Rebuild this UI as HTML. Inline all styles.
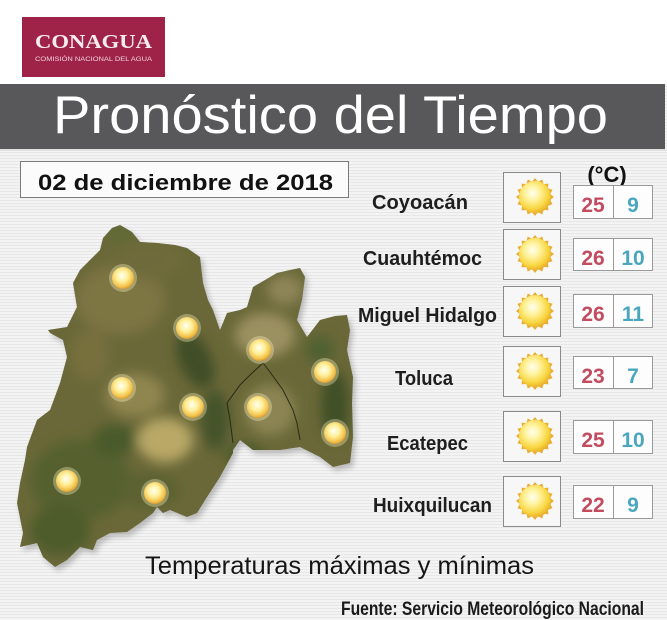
<!DOCTYPE html>
<html><head><meta charset="utf-8"><style>
html,body{margin:0;padding:0;background:#fff;}
svg{display:block;}
</style></head><body>
<svg width="667" height="620" viewBox="0 0 667 620" xmlns="http://www.w3.org/2000/svg">
<defs>
<pattern id="stripes" width="4" height="3" patternUnits="userSpaceOnUse">
<rect width="4" height="3" fill="#f3f3f3"/>
<rect y="2" width="4" height="1" fill="#e7e7e7"/>
</pattern>
<radialGradient id="sunBody" cx="0.42" cy="0.38" r="0.65">
<stop offset="0" stop-color="#fffef0"/>
<stop offset="0.35" stop-color="#fff3a0"/>
<stop offset="0.75" stop-color="#f8d640"/>
<stop offset="1" stop-color="#e9ac28"/>
</radialGradient>
<radialGradient id="dot" cx="0.45" cy="0.4" r="0.6">
<stop offset="0" stop-color="#fffff2"/>
<stop offset="0.45" stop-color="#ffef9a"/>
<stop offset="0.85" stop-color="#f2c048"/>
<stop offset="1" stop-color="#d99a30"/>
</radialGradient>
<g id="sun">
<polygon fill="#e9ae36" points="19,0 15.20,3.02 17.55,7.27 12.89,8.61 13.43,13.43 8.61,12.89 7.27,17.55 3.02,15.20 0,19 -3.02,15.20 -7.27,17.55 -8.61,12.89 -13.43,13.43 -12.89,8.61 -17.55,7.27 -15.20,3.02 -19,0 -15.20,-3.02 -17.55,-7.27 -12.89,-8.61 -13.43,-13.43 -8.61,-12.89 -7.27,-17.55 -3.02,-15.20 0,-19 3.02,-15.20 7.27,-17.55 8.61,-12.89 13.43,-13.43 12.89,-8.61 17.55,-7.27 15.20,-3.02"/>
<circle r="16" fill="url(#sunBody)"/>
</g>
<g id="mdot">
<circle r="14" fill="#fff6c0" opacity="0.35"/>
<circle r="11" fill="url(#dot)"/>
</g>
<clipPath id="mapclip">
<polygon id="mapshape" points="103,238 112,228 120,225 132,232 140,242 157,243 175,245 187,248 200,257 203,283 208,300 213,310 220,330 227,313 240,310 247,307 253,287 265,280 277,273 290,270 300,268 305,277 302,300 297,320 307,337 320,320 335,316 347,315 350,330 347,350 353,377 352,403 353,437 350,463 333,467 320,457 300,447 280,450 253,450 240,440 233,450 233,453 220,477 207,497 197,513 187,517 170,510 163,513 157,507 153,513 140,523 127,532 110,533 97,540 93,550 80,547 67,560 55,567 43,557 37,543 20,547 23,533 17,503 20,483 25,460 27,447 37,420 50,410 60,383 67,357 63,340 50,333 48,330 67,327 77,307 73,283 80,270 100,250"/>
</clipPath>
<filter id="blur6" x="-50%" y="-50%" width="200%" height="200%"><feGaussianBlur stdDeviation="6"/></filter>
<filter id="blur3" x="-50%" y="-50%" width="200%" height="200%"><feGaussianBlur stdDeviation="3"/></filter>
</defs>

<!-- backgrounds -->
<rect x="0" y="0" width="667" height="620" fill="url(#stripes)"/>
<rect x="0" y="0" width="667" height="84" fill="#ffffff"/>

<!-- logo -->
<rect x="22" y="17" width="143" height="60" fill="#9f2349"/>
<text x="35" y="48" font-family="Liberation Serif, serif" font-weight="bold" font-size="20" fill="#f7ecef" textLength="117" lengthAdjust="spacingAndGlyphs">CONAGUA</text>
<text x="35" y="61" font-family="Liberation Sans, sans-serif" font-size="6" fill="#efd3da" textLength="117" lengthAdjust="spacingAndGlyphs">COMISIÓN NACIONAL DEL AGUA</text>

<!-- banner -->
<rect x="0" y="84" width="665" height="65" fill="#58585a"/>
<rect x="0" y="149" width="667" height="2" fill="#e2e2e2"/>
<text x="53" y="133" font-family="Liberation Sans, sans-serif" font-size="53" fill="#ffffff" textLength="555" lengthAdjust="spacingAndGlyphs">Pronóstico del Tiempo</text>

<!-- date box -->
<rect x="20.5" y="161.5" width="328" height="36" fill="#fbfbfb" stroke="#7a7a7a" stroke-width="1"/>
<text x="38" y="190" font-family="Liberation Sans, sans-serif" font-weight="bold" font-size="22" fill="#111" textLength="295" lengthAdjust="spacingAndGlyphs">02 de diciembre de 2018</text>

<!-- map -->
<use href="#mapshape" transform="translate(3,4)" fill="#777" opacity="0.45" filter="url(#blur3)"/>
<g clip-path="url(#mapclip)">
<rect x="0" y="200" width="370" height="380" fill="#6a6838"/>
<g filter="url(#blur6)">
<ellipse cx="120" cy="300" rx="45" ry="35" fill="#7d7442"/>
<ellipse cx="150" cy="260" rx="35" ry="20" fill="#6e6a3a"/>
<ellipse cx="165" cy="440" rx="28" ry="22" fill="#b9a866"/>
<ellipse cx="135" cy="395" rx="30" ry="22" fill="#8f8550"/>
<ellipse cx="265" cy="335" rx="30" ry="22" fill="#9b9060"/>
<ellipse cx="285" cy="290" rx="18" ry="15" fill="#8d8558"/>
<ellipse cx="270" cy="410" rx="25" ry="25" fill="#8c8552"/>
<ellipse cx="195" cy="360" rx="16" ry="30" fill="#3f4d28" transform="rotate(-25 195 360)"/>
<ellipse cx="215" cy="420" rx="14" ry="30" fill="#45532a"/>
<ellipse cx="335" cy="405" rx="14" ry="35" fill="#3f5028"/>
<ellipse cx="320" cy="350" rx="14" ry="14" fill="#506030"/>
<ellipse cx="80" cy="480" rx="50" ry="40" fill="#54602f"/>
<ellipse cx="60" cy="530" rx="30" ry="25" fill="#4e5b2c"/>
<ellipse cx="150" cy="490" rx="30" ry="18" fill="#5b6232"/>
<ellipse cx="115" cy="440" rx="22" ry="16" fill="#4a5a2c"/>
<ellipse cx="90" cy="355" rx="20" ry="25" fill="#77703e"/>
<ellipse cx="245" cy="455" rx="20" ry="12" fill="#4b5a2c"/>
<ellipse cx="120" cy="235" rx="12" ry="8" fill="#5d6a34"/>
</g>
</g>
<polyline points="263,363 250,375 240,385 227,403 230,420 233,443" fill="none" stroke="#2a2a18" stroke-width="1"/>
<polyline points="263,363 270,372 283,390 293,410 297,423 300,440" fill="none" stroke="#2a2a18" stroke-width="1"/>

<use href="#mdot" x="123" y="278"/>
<use href="#mdot" x="187" y="328"/>
<use href="#mdot" x="260" y="350"/>
<use href="#mdot" x="325" y="372"/>
<use href="#mdot" x="122" y="388"/>
<use href="#mdot" x="193" y="407"/>
<use href="#mdot" x="258" y="407"/>
<use href="#mdot" x="335" y="433"/>
<use href="#mdot" x="67" y="481"/>
<use href="#mdot" x="155" y="493"/>

<!-- (°C) -->
<text x="607" y="182" text-anchor="middle" font-family="Liberation Sans, sans-serif" font-weight="bold" font-size="22" fill="#111">(°C)</text>

<!-- rows -->
<g font-family="Liberation Sans, sans-serif" font-weight="bold" fill="#1e1e1e" font-size="20">
<text x="372" y="209" textLength="96" lengthAdjust="spacingAndGlyphs">Coyoacán</text>
<text x="363" y="265" textLength="119" lengthAdjust="spacingAndGlyphs">Cuauhtémoc</text>
<text x="358" y="322" textLength="139" lengthAdjust="spacingAndGlyphs">Miguel Hidalgo</text>
<text x="395" y="385" textLength="58" lengthAdjust="spacingAndGlyphs">Toluca</text>
<text x="387" y="450" textLength="81" lengthAdjust="spacingAndGlyphs">Ecatepec</text>
<text x="373" y="512" textLength="119" lengthAdjust="spacingAndGlyphs">Huixquilucan</text>
</g>

<g fill="#f7f7f7" stroke="#8a8a8a" stroke-width="1">
<rect x="503.5" y="172.5" width="57" height="50"/>
<rect x="503.5" y="229.5" width="57" height="50"/>
<rect x="503.5" y="286.5" width="57" height="50"/>
<rect x="503.5" y="346.5" width="57" height="50"/>
<rect x="503.5" y="411.5" width="57" height="50"/>
<rect x="503.5" y="476.5" width="57" height="50"/>
</g>
<use href="#sun" x="535" y="197"/>
<use href="#sun" x="535" y="254"/>
<use href="#sun" x="535" y="311"/>
<use href="#sun" x="535" y="371"/>
<use href="#sun" x="535" y="436"/>
<use href="#sun" x="535" y="501"/>

<g fill="#fdfdfd" stroke="#9a9a9a" stroke-width="1">
<rect x="573.5" y="185.5" width="79" height="33"/>
<rect x="573.5" y="238.5" width="79" height="32"/>
<rect x="573.5" y="294.5" width="79" height="33"/>
<rect x="573.5" y="356.5" width="79" height="32"/>
<rect x="573.5" y="420.5" width="79" height="33"/>
<rect x="573.5" y="485.5" width="79" height="33"/>
</g>
<g stroke="#9a9a9a" stroke-width="1">
<line x1="613.5" y1="185" x2="613.5" y2="219"/>
<line x1="613.5" y1="238" x2="613.5" y2="271"/>
<line x1="613.5" y1="294" x2="613.5" y2="328"/>
<line x1="613.5" y1="356" x2="613.5" y2="389"/>
<line x1="613.5" y1="420" x2="613.5" y2="454"/>
<line x1="613.5" y1="485" x2="613.5" y2="519"/>
</g>
<g font-family="Liberation Sans, sans-serif" font-weight="bold" font-size="21" text-anchor="middle">
<g fill="#c24b5f">
<text x="593" y="212">25</text>
<text x="593" y="265">26</text>
<text x="593" y="321">26</text>
<text x="593" y="383">23</text>
<text x="593" y="447">25</text>
<text x="593" y="512">22</text>
</g>
<g fill="#4aa6bd">
<text x="633" y="212">9</text>
<text x="633" y="265">10</text>
<text x="633" y="321">11</text>
<text x="633" y="383">7</text>
<text x="633" y="447">10</text>
<text x="633" y="512">9</text>
</g>
</g>

<!-- footer -->
<text x="145" y="574" font-family="Liberation Sans, sans-serif" font-size="25" fill="#151515" textLength="389" lengthAdjust="spacingAndGlyphs">Temperaturas máximas y mínimas</text>
<text x="341" y="615" font-family="Liberation Sans, sans-serif" font-weight="bold" font-size="19" fill="#1a1a1a" textLength="303" lengthAdjust="spacingAndGlyphs">Fuente: Servicio Meteorológico Nacional</text>
</svg>
</body></html>
